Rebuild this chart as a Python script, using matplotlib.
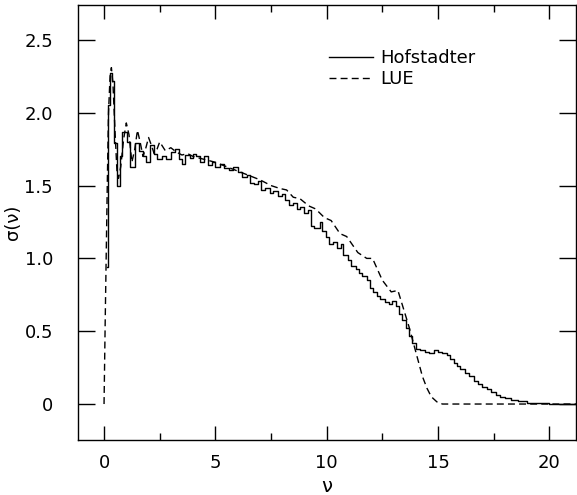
import matplotlib
matplotlib.use("Agg")
import matplotlib.pyplot as plt
from matplotlib.ticker import MultipleLocator

# Hofstadter histogram (step starts, values)
hof_nu = [0.12, 0.16, 0.28, 0.34, 0.46, 0.56, 0.72, 0.81, 1.05, 1.17, 1.37, 1.55, 1.75, 1.90,
          2.05, 2.25, 2.40, 2.60, 2.80, 3.00, 3.20, 3.35, 3.50, 3.65, 3.85, 4.00, 4.15, 4.30,
          4.50, 4.65, 4.85, 5.00, 5.20, 5.40, 5.60, 5.80, 6.00, 6.20, 6.40, 6.55, 6.75, 6.90,
          7.05, 7.25, 7.45, 7.60, 7.80, 8.00, 8.15, 8.30, 8.50, 8.65, 8.80, 9.00, 9.15, 9.30,
          9.45, 9.70, 9.80, 9.95, 10.10, 10.30, 10.45, 10.65, 10.75, 10.95, 11.10, 11.30, 11.45,
          11.60, 11.80, 11.95, 12.10, 12.25, 12.40, 12.60, 12.80, 12.95, 13.10, 13.25, 13.40,
          13.55, 13.70, 13.85, 14.00, 14.20, 14.40, 14.60, 14.80, 15.00, 15.20, 15.40, 15.55,
          15.70, 15.85, 16.00, 16.20, 16.40, 16.60, 16.80, 17.00, 17.20, 17.40, 17.60, 17.80,
          18.00, 18.30, 18.60, 19.00, 19.50, 20.00, 20.50, 21.20]
hof_sigma = [0.94, 2.05, 2.27, 2.22, 1.79, 1.50, 1.70, 1.87, 1.80, 1.63, 1.79, 1.74, 1.70, 1.66,
             1.78, 1.72, 1.68, 1.70, 1.68, 1.73, 1.75, 1.68, 1.65, 1.71, 1.69, 1.72, 1.70, 1.66,
             1.70, 1.64, 1.66, 1.63, 1.65, 1.62, 1.61, 1.63, 1.59, 1.56, 1.57, 1.52, 1.51, 1.53,
             1.47, 1.48, 1.45, 1.46, 1.43, 1.44, 1.40, 1.37, 1.38, 1.34, 1.35, 1.31, 1.33, 1.22,
             1.21, 1.25, 1.19, 1.15, 1.10, 1.11, 1.07, 1.10, 1.02, 0.99, 0.95, 0.93, 0.90,
             0.88, 0.85, 0.80, 0.77, 0.74, 0.72, 0.70, 0.69, 0.71, 0.67, 0.62, 0.58,
             0.52, 0.47, 0.42, 0.38, 0.37, 0.355, 0.35, 0.37, 0.36, 0.35, 0.34, 0.31,
             0.28, 0.26, 0.24, 0.21, 0.19, 0.16, 0.14, 0.12, 0.10, 0.08, 0.06, 0.05,
             0.04, 0.03, 0.02, 0.01, 0.005, 0.002, 0.0, 0.0]

# LUE density
lue_nu = [0.0, 0.05, 0.10, 0.15, 0.20, 0.27, 0.33, 0.40, 0.50, 0.58, 0.65, 0.75, 0.88, 1.00,
          1.12, 1.25, 1.38, 1.50, 1.62, 1.75, 1.88, 2.00, 2.12, 2.25, 2.38, 2.50, 2.75, 3.00,
          3.25, 3.50, 3.75, 4.00, 4.50, 5.00, 5.50, 6.00, 6.50, 7.00, 7.50, 7.90, 8.20, 8.50,
          8.80, 9.20, 9.50, 9.90, 10.20, 10.60, 10.90, 11.40, 11.80, 12.06, 12.50, 12.90, 13.20,
          13.40, 13.70, 14.00, 14.30, 14.50, 14.70, 14.95, 15.20, 21.20]
lue_sigma = [0.0, 0.55, 1.05, 1.55, 2.00, 2.25, 2.31, 2.20, 1.85, 1.60, 1.55, 1.63, 1.82, 1.93,
             1.85, 1.66, 1.75, 1.88, 1.80, 1.70, 1.76, 1.83, 1.78, 1.72, 1.75, 1.80, 1.74, 1.76,
             1.73, 1.71, 1.72, 1.70, 1.68, 1.66, 1.63, 1.60, 1.57, 1.54, 1.50, 1.48, 1.47, 1.42,
             1.41, 1.36, 1.34, 1.28, 1.26, 1.17, 1.15, 1.04, 1.00, 1.00, 0.85, 0.77, 0.78,
             0.68, 0.53, 0.36, 0.19, 0.11, 0.05, 0.015, 0.0, 0.0]

plt.rcParams["font.family"] = ["DejaVu Sans"]

fig = plt.figure(figsize=(5.77, 4.95), dpi=100)
ax = fig.add_axes([78 / 577, 55 / 495, 498 / 577, 435 / 495])

ax.plot(hof_nu, hof_sigma, color="black", lw=1.0, drawstyle="steps-post", label="Hofstadter")
ax.plot(lue_nu, lue_sigma, color="black", lw=1.0, dashes=(5, 3), label="LUE")

ax.set_xlim(-1.17, 21.2)
ax.set_ylim(-0.247, 2.74)
ax.xaxis.set_major_locator(MultipleLocator(5))
ax.xaxis.set_minor_locator(MultipleLocator(2.5))
ax.set_yticks([0, 0.5, 1.0, 1.5, 2.0, 2.5])
ax.set_yticklabels(["0", "0.5", "1.0", "1.5", "2.0", "2.5"])
ax.tick_params(which="both", direction="in", top=True, right=True, labelsize=13)
ax.tick_params(which="major", length=10, width=1)
ax.tick_params(which="minor", length=5, width=1)
ax.tick_params(axis="x", pad=10)
ax.tick_params(axis="y", length=12, pad=18)
for s in ax.spines.values():
    s.set_linewidth(1)

ax.set_xlabel("ν", fontsize=14, labelpad=4)
ax.set_ylabel("σ(ν)", fontsize=13)
ax.yaxis.set_label_coords(-0.112, 0.5)

ax.legend(loc="upper left", bbox_to_anchor=(0.49, 0.915), frameon=False, fontsize=13,
          handlelength=2.4, handletextpad=0.4, labelspacing=0.15, borderaxespad=0)

fig.savefig("out.png", dpi=100)
